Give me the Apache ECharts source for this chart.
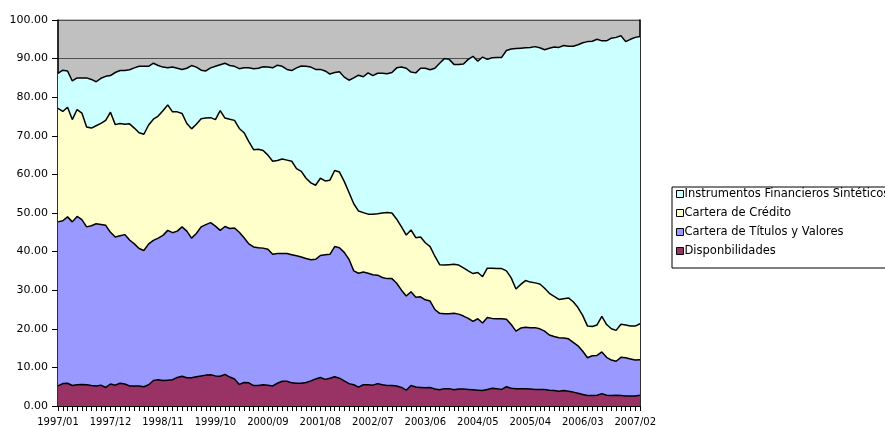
<!DOCTYPE html>
<html>
<head>
<meta charset="utf-8">
<script src="https://cdn.jsdelivr.net/npm/echarts@6/dist/echarts.min.js"></script>
<style>
html,body{margin:0;padding:0;background:#fff;}
#chart{width:885px;height:427px;}
</style>
</head>
<body>
<div id="chart"></div>
<script>
// Monthly categories 1997/01 .. 2007/03
const startYear = 1997, monthCount = 123;
const categories = [];
for (let k = 0; k < monthCount; k++) {
  const y = startYear + Math.floor(k / 12), m = (k % 12) + 1;
  categories.push(y + '/' + (m < 10 ? '0' + m : m));
}

const seriesNames = ['Disponbilidades', 'Cartera de Títulos y Valores', 'Cartera de Crédito', 'Instrumentos Financieros Sintéticos'];
const seriesColors = ['#993366', '#9999FF', '#FFFFCC', '#CCFFFF'];

const disponibilidades = [5.2,5.8,5.9,5.3,5.5,5.6,5.5,5.3,5.2,5.4, 4.8,5.7,5.4,5.9,5.7,5.2,5.2,5.2,5.0,5.5, 6.6,6.8,6.6,6.7,6.8,7.4,7.7,7.3,7.3,7.6, 7.8,8.0,8.1,7.8,7.7,8.2,7.5,7.0,5.6,6.1, 6.0,5.3,5.3,5.5,5.4,5.2,5.9,6.4,6.4,6.0, 5.9,5.9,6.1,6.5,7.0,7.4,6.9,7.2,7.6,7.2, 6.5,5.8,5.5,4.9,5.5,5.5,5.4,5.8,5.5,5.3, 5.3,5.2,4.8,4.1,5.3,4.9,4.8,4.7,4.8,4.4, 4.2,4.5,4.5,4.2,4.4,4.4,4.3,4.2,4.1,4.0, 4.3,4.6,4.5,4.3,5.0,4.6,4.5,4.5,4.5,4.4, 4.3,4.3,4.3,4.1,4.0,3.8,4.0,3.8,3.6,3.3, 3.0,2.7,2.7,2.8,3.2,2.8,2.7,2.8,2.7,2.6, 2.6,2.6,2.8];

const titulosValores = [42.5,42.2,43.1,42.4,43.6,42.7,40.9,41.4,42.0,41.6, 42.0,39.3,38.4,38.2,38.7,37.8,36.8,35.6,35.3,36.5, 36.3,36.7,37.6,38.8,38.1,37.9,38.7,38.0,36.2,37.1, 38.6,39.0,39.4,38.8,37.8,38.3,38.5,39.1,39.4,37.5, 36.0,35.9,35.7,35.4,35.2,34.1,33.6,33.1,33.1,33.2, 33.0,32.7,32.1,31.4,31.0,31.6,32.3,32.1,33.7,33.8, 33.3,32.2,29.5,29.5,29.2,28.9,28.6,28.1,27.8,27.7, 27.7,26.6,25.2,24.4,24.3,23.3,23.5,22.8,22.4,20.6, 19.8,19.4,19.4,19.8,19.4,18.9,18.4,17.7,18.5,17.5, 18.6,18.1,18.1,18.3,17.5,16.5,14.9,15.7,15.9,15.9, 16.0,15.7,15.1,14.3,14.0,13.9,13.6,13.6,12.9,12.3, 11.2,9.8,10.3,10.3,10.8,9.8,9.2,8.8,9.9,9.9, 9.6,9.3,9.2];

const carteraCredito = [29.4,28.3,28.4,26.5,27.7,27.6,25.9,25.3,25.4,26.2, 27.2,31.1,29.1,29.1,28.6,30.1,30.0,30.0,30.1,30.8, 31.4,31.6,32.3,32.5,31.3,30.9,29.4,27.9,28.3,28.3, 28.0,27.6,27.2,27.6,31.0,28.1,28.3,27.9,26.9,27.2, 26.5,25.2,25.5,25.3,24.4,24.1,24.1,24.5,24.2,24.2, 22.6,22.2,20.8,19.9,19.2,20.0,19.1,19.2,19.7,19.6, 18.4,17.3,17.4,16.1,15.4,15.3,15.7,15.9,16.7,17.1, 17.0,16.6,16.4,15.8,16.0,15.4,15.5,14.8,14.1,13.8, 12.6,12.6,12.7,12.7,12.7,12.5,12.3,12.4,12.0,12.0, 12.8,13.0,13.0,13.0,12.5,12.1,10.9,11.3,12.1,11.8, 11.6,11.6,11.1,10.8,10.4,9.9,10.2,10.6,10.5,9.9, 9.2,8.2,7.6,7.9,9.2,8.5,8.1,8.0,8.6,8.5, 8.5,8.8,9.3];

const instrumentosSinteticos = [9.1,10.7,9.4,10.0,8.2,9.1,12.7,12.6,11.4,11.7, 11.4,9.5,13.5,13.7,13.9,14.0,15.6,17.2,17.6,15.2, 14.5,13.1,11.3,9.6,11.6,11.3,11.4,14.3,16.4,14.8, 12.6,12.2,12.9,13.8,11.9,14.2,13.9,14.0,15.5,16.8, 19.1,21.0,21.0,21.7,22.8,24.2,24.7,24.0,23.5,23.5, 26.1,27.3,29.0,30.0,30.0,28.2,28.5,27.5,25.4,26.0, 27.0,29.1,32.6,35.2,35.2,36.6,35.9,36.4,36.2,36.0, 36.4,39.2,41.4,43.2,40.9,42.7,43.7,45.2,45.8,48.7, 52.2,53.5,53.2,51.8,52.0,52.8,54.8,56.3,54.7,56.9, 54.1,54.5,54.7,54.7,57.1,59.3,62.3,61.2,60.3,60.8, 61.2,61.2,61.8,63.5,64.6,65.3,65.6,65.2,66.2,68.1, 70.7,73.7,73.9,74.0,71.4,73.5,75.3,75.9,74.7,73.4, 74.3,74.8,74.4];

const yTicks = [0,10,20,30,40,50,60,70,80,90,100];

const seriesData = [disponibilidades, titulosValores, carteraCredito, instrumentosSinteticos];
const FONT = '"DejaVu Sans", Verdana, sans-serif';

const chart = echarts.init(document.getElementById('chart'), null, {renderer: 'canvas'});
chart.setOption({
  backgroundColor: '#ffffff',
  animation: false,
  grid: {
    left: 58, top: 20, width: 582, height: 386,
    show: true, backgroundColor: '#C0C0C0', borderColor: '#808080', borderWidth: 1
  },
  legend: {
    orient: 'vertical',
    left: 672, top: 187,
    icon: 'rect',
    itemWidth: 7, itemHeight: 7,
    itemGap: 7,
    padding: [1, 12, 11, 4],
    borderColor: '#000', borderWidth: 1, backgroundColor: '#fff',
    itemStyle: {borderColor: '#000', borderWidth: 1},
    textStyle: {fontFamily: FONT, fontSize: 11.5, color: '#000', lineHeight: 12, padding: [0,0,0,-4]},
    data: seriesNames.slice().reverse()
  },
  xAxis: {
    type: 'category',
    data: categories,
    boundaryGap: false,
    axisLine: {lineStyle: {color: '#000', width: 1}},
    axisTick: {show: true, interval: 0, length: 5, lineStyle: {color: '#000'}},
    axisLabel: {interval: 10, fontFamily: FONT, fontSize: 10, color: '#000', margin: 11},
    splitLine: {show: false}
  },
  yAxis: [{
    type: 'value',
    min: yTicks[0], max: yTicks[yTicks.length - 1], interval: 10,
    axisLine: {show: true, lineStyle: {color: '#000', width: 1.5}},
    axisTick: {show: true, length: 6, lineStyle: {color: '#000'}},
    axisLabel: {fontFamily: FONT, fontSize: 11, color: '#000', margin: 10,
      formatter: v => v.toFixed(2)},
    splitLine: {show: true, lineStyle: {color: '#505050', width: 1.2}}
  }, {
    type: 'value', position: 'right',
    min: 0, max: 100,
    axisLine: {show: true, lineStyle: {color: '#000', width: 1.5}},
    axisTick: {show: false}, axisLabel: {show: false}, splitLine: {show: false}
  }],
  series: seriesData.map((d, k) => ({
    name: seriesNames[k],
    type: 'line',
    stack: 'total',
    data: d,
    symbol: 'none',
    smooth: false,
    itemStyle: {color: seriesColors[k]},
    lineStyle: {color: '#000', width: 1.5},
    areaStyle: {color: seriesColors[k], opacity: 1},
    z: 10 - k
  }))
});
</script>
</body>
</html>
